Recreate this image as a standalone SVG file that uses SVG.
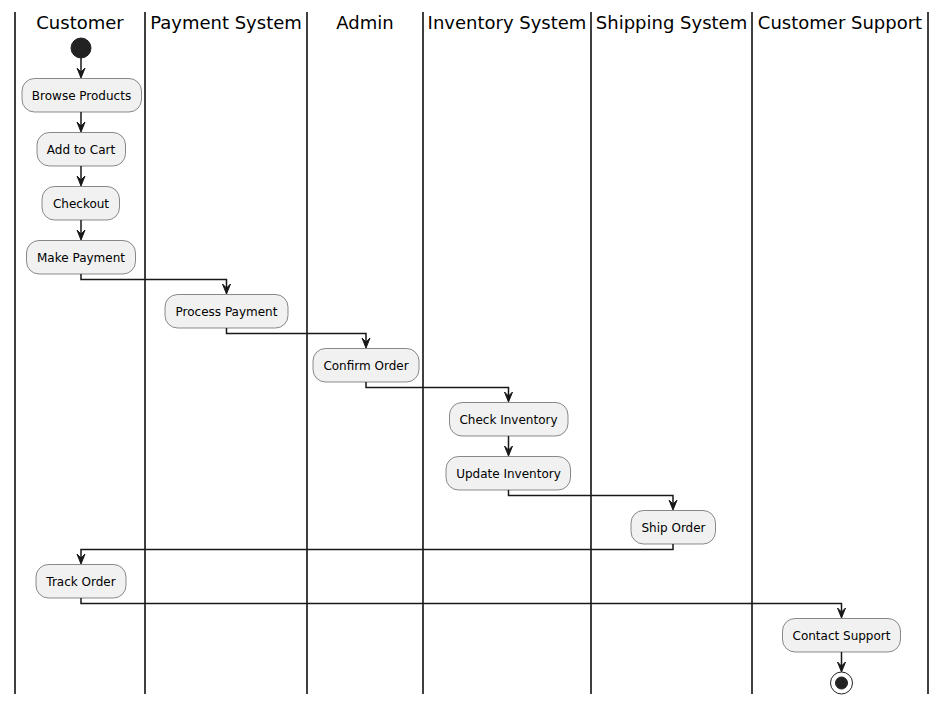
<svg xmlns="http://www.w3.org/2000/svg" width="946" height="705" viewBox="0 0 946 705">
<style>
.lane{stroke:#000;stroke-width:1.5;fill:none}
.hdr{font-family:"DejaVu Sans",sans-serif;font-size:18px;fill:#000;text-anchor:middle}
.act rect{fill:#F1F1F1;stroke:#181818;stroke-width:0.5}
.act text{font-family:"DejaVu Sans",sans-serif;font-size:12px;fill:#000;text-anchor:middle}
.edge{stroke:#181818;stroke-width:1.5;fill:none}
.ah{fill:#181818;stroke:#181818;stroke-width:1}
</style>
<rect width="946" height="705" fill="#fff"/>
<g id="lanes">
<line class="lane" x1="15" y1="12" x2="15" y2="694"/>
<line class="lane" x1="145" y1="12" x2="145" y2="694"/>
<line class="lane" x1="307" y1="12" x2="307" y2="694"/>
<line class="lane" x1="423" y1="12" x2="423" y2="694"/>
<line class="lane" x1="591" y1="12" x2="591" y2="694"/>
<line class="lane" x1="752" y1="12" x2="752" y2="694"/>
<line class="lane" x1="928" y1="12" x2="928" y2="694"/>
<text class="hdr" x="80" y="29">Customer</text>
<text class="hdr" x="226" y="29">Payment System</text>
<text class="hdr" x="365" y="29">Admin</text>
<text class="hdr" x="507" y="29">Inventory System</text>
<text class="hdr" x="671.5" y="29">Shipping System</text>
<text class="hdr" x="840" y="29">Customer Support</text>
</g>
<g id="connectors">
<path class="edge" d="M81,58 V76"/>
<path class="edge" d="M81,112 V130"/>
<path class="edge" d="M81,166 V184"/>
<path class="edge" d="M81,220 V238"/>
<path class="edge" d="M81,274 V279.5 H226.5 V292"/>
<path class="edge" d="M226.5,328 V333.5 H366 V346"/>
<path class="edge" d="M366,382 V387.5 H508.5 V400"/>
<path class="edge" d="M508.5,436 V454"/>
<path class="edge" d="M508.5,490 V495.5 H673 V508"/>
<path class="edge" d="M673,544 V549.5 H81 V562"/>
<path class="edge" d="M81,598 V603.5 H841.5 V616"/>
<path class="edge" d="M841.5,652 V670"/>
<polygon class="ah" points="77,68 81,78 85,68 81,72"/>
<polygon class="ah" points="77,122 81,132 85,122 81,126"/>
<polygon class="ah" points="77,176 81,186 85,176 81,180"/>
<polygon class="ah" points="77,230 81,240 85,230 81,234"/>
<polygon class="ah" points="222.5,284 226.5,294 230.5,284 226.5,288"/>
<polygon class="ah" points="362,338 366,348 370,338 366,342"/>
<polygon class="ah" points="504.5,392 508.5,402 512.5,392 508.5,396"/>
<polygon class="ah" points="504.5,446 508.5,456 512.5,446 508.5,450"/>
<polygon class="ah" points="669,500 673,510 677,500 673,504"/>
<polygon class="ah" points="77,554 81,564 85,554 81,558"/>
<polygon class="ah" points="837.5,608 841.5,618 845.5,608 841.5,612"/>
<polygon class="ah" points="837.5,662 841.5,672 845.5,662 841.5,666"/>
</g>
<g id="start"><circle cx="81" cy="48" r="10" fill="#222" stroke="#222"/></g>
<g id="browse" class="act"><rect x="22" y="78.5" width="119.5" height="33.5" rx="12.5"/><text x="81.5" y="100">Browse Products</text></g>
<g id="cart" class="act"><rect x="37" y="132.5" width="88.5" height="33.5" rx="12.5"/><text x="81" y="154">Add to Cart</text></g>
<g id="checkout" class="act"><rect x="42" y="186.5" width="77.5" height="33.5" rx="12.5"/><text x="81" y="208">Checkout</text></g>
<g id="makepay" class="act"><rect x="26.5" y="240.5" width="109" height="33.5" rx="12.5"/><text x="81" y="262">Make Payment</text></g>
<g id="procpay" class="act"><rect x="165" y="294.5" width="123" height="33.5" rx="12.5"/><text x="226.5" y="316">Process Payment</text></g>
<g id="confirm" class="act"><rect x="313" y="348.5" width="106" height="33.5" rx="12.5"/><text x="366" y="370">Confirm Order</text></g>
<g id="checkinv" class="act"><rect x="449.5" y="402.5" width="118.5" height="33.5" rx="12.5"/><text x="508.5" y="424">Check Inventory</text></g>
<g id="updinv" class="act"><rect x="446" y="456.5" width="124.5" height="33.5" rx="12.5"/><text x="508.5" y="478">Update Inventory</text></g>
<g id="ship" class="act"><rect x="631" y="510.5" width="84.5" height="33.5" rx="12.5"/><text x="673.5" y="532">Ship Order</text></g>
<g id="track" class="act"><rect x="36" y="564.5" width="90" height="33.5" rx="12.5"/><text x="81" y="586">Track Order</text></g>
<g id="support" class="act"><rect x="782.5" y="618.5" width="118" height="33.5" rx="12.5"/><text x="841.5" y="640">Contact Support</text></g>
<g id="end"><circle cx="841.5" cy="683" r="11" fill="none" stroke="#222" stroke-width="1"/><circle cx="841.5" cy="683" r="6" fill="#222" stroke="#222"/></g>
</svg>
